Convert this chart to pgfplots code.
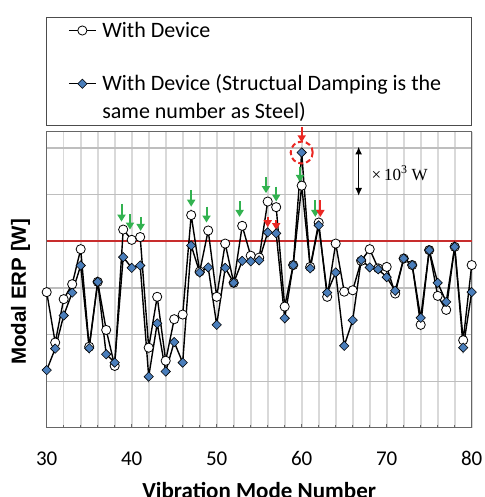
\documentclass[border=0pt]{standalone}
\usepackage{fontspec}
\setmainfont{Carlito}
\newfontfamily\lsans{Liberation Sans}
\newfontfamily\lserif{Liberation Serif}
\usepackage{pgfplots}
\pgfplotsset{compat=1.18}
\usetikzlibrary{arrows.meta}
\definecolor{dblue}{RGB}{74,126,187}
\definecolor{redline}{RGB}{200,45,45}
\definecolor{annred}{RGB}{235,40,35}
\definecolor{anngreen}{RGB}{50,178,80}
\definecolor{vgrid}{RGB}{217,217,217}
\definecolor{hgrid}{RGB}{190,190,190}
\newcommand{\legfont}{\fontsize{22}{28.3}\selectfont}
\begin{document}
\begin{tikzpicture}
\begin{axis}[
  name=ax,
  scale only axis,
  width=425pt, height=296pt,
  xmin=30, xmax=80, ymin=0, ymax=6.34,
  clip=false,
  axis line style={draw=black!60, line width=1pt},
  xtick={30,40,...,80},
  minor xtick={32,34,...,78},
  ytick={1,2,3,4,5,6},
  yticklabels={},
  ytick style={draw=none},
  xtick style={draw=black!60, line width=1pt},
  major tick length=4pt, minor tick length=3pt,
  xtick pos=bottom, tick align=inside,
  xmajorgrids, xminorgrids, ymajorgrids,
  x grid style={draw=vgrid, line width=1.6pt},
  y grid style={draw=hgrid, line width=1.3pt},
  /pgf/number format/assume math mode=true,
  xticklabel style={font=\fontsize{21}{24}\selectfont, yshift=-20pt},
  xlabel={Vibration Mode Number},
  xlabel style={font=\bfseries\fontsize{23}{26}\selectfont, at={(axis description cs:0.5,0)}, anchor=center, yshift=-62pt},
  ylabel={Modal ERP [W]},
  ylabel style={font=\lsans\bfseries\fontsize{20.5}{24}\selectfont, at={(axis description cs:-0.0612,0.46)}, anchor=center},
  legend cell align=left,
  legend style={
    at={(axis description cs:0,1)}, anchor=south west, yshift=6pt, xshift=-0.7pt,
    draw=black!70, line width=0.8pt, fill=white,
    font=\legfont,
    inner xsep=22pt, inner ysep=4pt,
    row sep=37pt,
    cells={anchor=base west},
    nodes={inner sep=0pt, text depth={}},
    /tikz/every odd column/.append style={column sep=6pt},
  },
  legend image code/.code={
    \draw[mark repeat=2, mark phase=2, #1, line width=0.9pt, yshift=6.5pt] plot coordinates {(0pt,0pt) (13.5pt,0pt) (27pt,0pt)};
  },
]
\addplot[redline, line width=2.2pt, forget plot] coordinates {(30,4) (80,4)};
\addplot[black, line width=1.4pt, mark=*, mark size=4.6pt, mark options={fill=white, draw=black, line width=0.8pt}] table {
x y
30 2.91
31 1.83
32 2.76
33 3.08
34 3.83
35 1.74
36 3.13
37 2.10
38 1.33
39 4.25
40 4.03
41 4.09
42 1.72
43 2.81
44 1.44
45 2.33
46 2.43
47 4.56
48 3.35
49 4.23
50 2.81
51 3.95
52 3.11
53 4.33
54 3.69
55 3.65
56 4.85
57 4.73
58 2.60
59 3.49
60 5.19
61 3.45
62 4.40
63 2.81
64 3.95
65 2.92
66 2.95
67 3.58
68 3.83
69 3.42
70 3.45
71 2.88
72 3.63
73 3.49
74 2.21
75 3.81
76 2.83
77 2.53
78 3.88
79 1.88
80 3.49
};
\addlegendentry{\parbox[t]{347pt}{\legfont With Device}}
\addplot[black, line width=1.4pt, mark=square*, mark size=3.3pt, mark options={fill=dblue, draw=black, line width=0.6pt, rotate=45}] table {
x y
30 1.24
31 1.70
32 2.41
33 2.90
34 3.48
35 1.71
36 3.13
37 1.58
38 1.40
39 3.66
40 3.43
41 3.48
42 1.10
43 2.24
44 1.21
45 1.84
46 1.40
47 3.91
48 3.33
49 3.44
50 2.21
51 3.43
52 3.11
53 3.58
54 3.57
55 3.59
56 4.19
57 4.17
58 2.35
59 3.49
60 5.90
61 3.42
62 4.34
63 2.90
64 3.33
65 1.76
66 2.31
67 3.60
68 3.44
69 3.40
70 3.23
71 2.94
72 3.63
73 3.49
74 2.36
75 3.81
76 3.11
77 2.70
78 3.88
79 1.72
80 2.91
};
\addlegendentry{\parbox[t]{347pt}{\legfont\mbox{With Device (Structual Damping is the}\\\mbox{same number as Steel)}}}
% annotations
\tikzset{garr/.style={anngreen, line width=2pt, -{Triangle[length=7pt,width=8pt]}},
         rarr/.style={annred, line width=2pt, -{Triangle[length=7pt,width=8pt]}}}
\draw[garr] (axis cs:38.8,4.80) -- (axis cs:38.8,4.42);
\draw[garr] (axis cs:39.8,4.58) -- (axis cs:39.8,4.25);
\draw[garr] (axis cs:41.05,4.52) -- (axis cs:41.05,4.22);
\draw[garr] (axis cs:47.0,5.10) -- (axis cs:47.0,4.74);
\draw[garr] (axis cs:48.8,4.74) -- (axis cs:48.8,4.40);
\draw[garr] (axis cs:52.7,4.86) -- (axis cs:52.7,4.52);
\draw[garr] (axis cs:55.8,5.38) -- (axis cs:55.8,5.03);
\draw[garr] (axis cs:57.0,5.17) -- (axis cs:57.0,4.85);
\draw[garr] (axis cs:59.8,5.60) -- (axis cs:59.8,5.27);
\draw[garr] (axis cs:61.6,4.88) -- (axis cs:61.6,4.52);
\draw[rarr] (axis cs:56.0,4.52) -- (axis cs:56.0,4.30);
\draw[rarr] (axis cs:57.0,4.45) -- (axis cs:57.0,4.24);
\draw[rarr] (axis cs:62.2,4.88) -- (axis cs:62.2,4.52);
\draw[rarr] (axis cs:60,6.45) -- (axis cs:60,6.12);
\draw[annred, dashed, dash pattern=on 5pt off 3pt, line width=2pt] (axis cs:60,5.90) circle [radius=11pt];
\draw[black, line width=1.6pt, {Latex[length=8pt,width=7pt]}-{Latex[length=8pt,width=7pt]}] (axis cs:66.7,6.03) -- (axis cs:66.7,4.97);
\node[anchor=west, inner sep=0pt, font=\lserif\fontsize{17}{20}\selectfont] at (axis cs:68.2,5.46) {×\,10\textsuperscript{3} W};
\end{axis}
\pgfresetboundingbox
\path[use as bounding box] ([shift={(-46.7pt,-69pt)}]ax.south west) rectangle ([shift={(13.3pt,132pt)}]ax.north east);
\end{tikzpicture}
\end{document}
